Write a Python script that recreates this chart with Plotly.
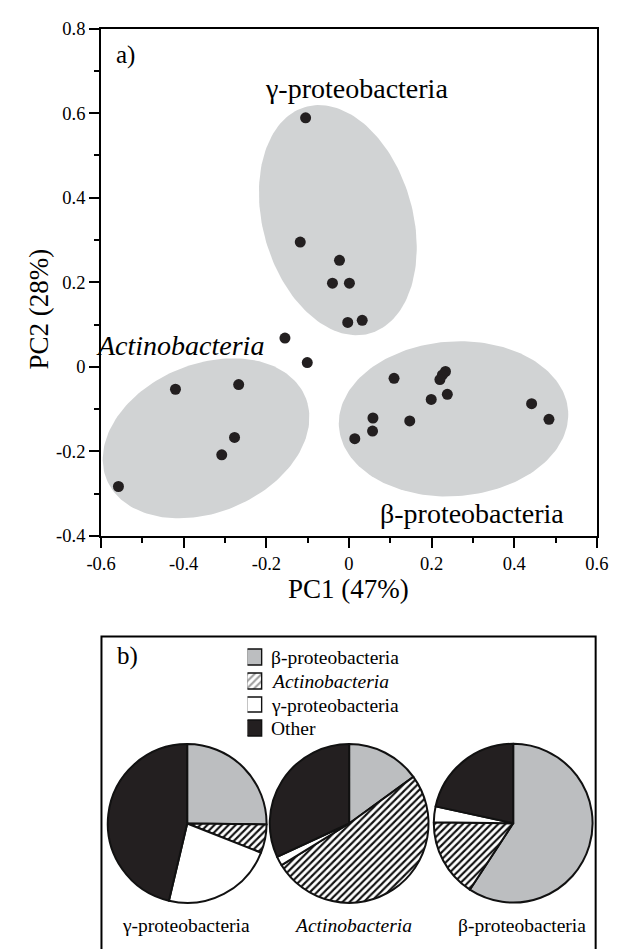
import numpy as np
import plotly.graph_objects as go

# ---------------- data ----------------
# PCA scores (PC1, PC2), one list per cluster
gamma_pc1 = [-0.105, -0.118, -0.023, -0.040, 0.001, -0.003, 0.032]
gamma_pc2 = [0.589, 0.295, 0.252, 0.198, 0.198, 0.105, 0.110]
other_pc1 = [-0.155, -0.101]
other_pc2 = [0.068, 0.010]
actino_pc1 = [-0.420, -0.267, -0.277, -0.308, -0.558]
actino_pc2 = [-0.053, -0.042, -0.167, -0.208, -0.283]
beta_pc1 = [0.109, 0.2335, 0.226, 0.220, 0.238, 0.199, 0.147, 0.058, 0.057, 0.014, 0.442, 0.484]
beta_pc2 = [-0.027, -0.011, -0.019, -0.030, -0.065, -0.077, -0.128, -0.121, -0.152, -0.170, -0.087, -0.124]

# cluster ellipses: centre x, centre y, semi-major, semi-minor, angle (deg)
ellipse_cx = [-0.027, -0.346, 0.253]
ellipse_cy = [0.347, -0.169, -0.123]
ellipse_a = [0.279, 0.2596, 0.278]
ellipse_b = [0.181, 0.176, 0.183]
ellipse_angle = [106.7, 21.4, 3.7]

cluster_labels = ["γ-proteobacteria", "<i>Actinobacteria</i>", "β-proteobacteria"]
cluster_label_x = [0.018, -0.4085, 0.297]
cluster_label_y = [0.659, 0.0505, -0.348]

x_tickvals = [-0.6, -0.4, -0.2, 0, 0.2, 0.4, 0.6]
x_ticktext = ["-0.6", "-0.4", "-0.2", "0", "0.2", "0.4", "0.6"]
y_tickvals = [-0.4, -0.2, 0, 0.2, 0.4, 0.6, 0.8]
y_ticktext = ["-0.4", "-0.2", "0", "0.2", "0.4", "0.6", "0.8"]

# composition pies (percent)
pie_categories = ["β-proteobacteria", "<i>Actinobacteria</i>", "γ-proteobacteria", "Other"]
pie_gamma = [25.2, 5.8, 22.7, 46.3]
pie_actino = [15.0, 51.2, 1.9, 31.9]
pie_beta = [59.2, 16.0, 3.2, 21.6]
pie_titles = ["γ-proteobacteria", "<i>Actinobacteria</i>", "β-proteobacteria"]

# ---------------- figure ----------------
W, H = 622, 949
FONT = "Liberation Serif"
ELL_COLOR = "#d1d3d4"
DOT_COLOR = "#231f20"
SLICE_COLORS = ["#bcbec0", "#ffffff", "#ffffff", "#231f20"]
SLICE_PATTERN = ["", "/", "", ""]


def px(x):
    return x / W


def py(y):
    return 1 - y / H


fig = go.Figure()

for cx, cy, a, b, ang in zip(ellipse_cx, ellipse_cy, ellipse_a, ellipse_b, ellipse_angle):
    t = np.linspace(0, 2 * np.pi, 181)
    th = np.radians(ang)
    ex = cx + a * np.cos(t) * np.cos(th) - b * np.sin(t) * np.sin(th)
    ey = cy + a * np.cos(t) * np.sin(th) + b * np.sin(t) * np.cos(th)
    fig.add_trace(go.Scatter(x=ex, y=ey, mode="lines", fill="toself",
                             fillcolor=ELL_COLOR, line=dict(width=0, color=ELL_COLOR),
                             hoverinfo="skip", showlegend=False))

all_x = gamma_pc1 + other_pc1 + actino_pc1 + beta_pc1
all_y = gamma_pc2 + other_pc2 + actino_pc2 + beta_pc2
fig.add_trace(go.Scatter(x=all_x, y=all_y, mode="markers",
                         marker=dict(size=11, color=DOT_COLOR),
                         showlegend=False))

# pies
pie_centers = [(180.0, 831.0), (349.3, 831.0), (520.8, 830.7)]
R = 83.0
pie_vals = [pie_gamma, pie_actino, pie_beta]
for vals, (cx, cy) in zip(pie_vals, pie_centers):
    fig.add_trace(go.Pie(
        labels=pie_categories, values=vals, sort=False, direction="clockwise",
        rotation=0, textinfo="none", hoverinfo="label+percent",
        marker=dict(colors=SLICE_COLORS,
                    line=dict(color="#111111", width=2),
                    pattern=dict(shape=SLICE_PATTERN, fgcolor="#111111",
                                 size=5, solidity=0.42)),
        domain=dict(x=[px(cx - R), px(cx + R)], y=[py(cy + R), py(cy - R)]),
        showlegend=False,
    ))

# legend keys for panel b (bar swatches on hidden axes)
rows = list(range(len(pie_categories)))
fig.add_trace(go.Bar(
    x=[1] * len(rows), y=rows, orientation="h", base=0, width=16 / 24.3,
    xaxis="x2", yaxis="y2", showlegend=False, hoverinfo="skip",
    marker=dict(color=SLICE_COLORS, line=dict(color="#111111", width=1.5),
                pattern=dict(shape=SLICE_PATTERN, fgcolor="#111111", size=5, solidity=0.42)),
))

axis_common = dict(showline=True, linewidth=2, linecolor="black", mirror=True,
                   ticks="outside", ticklen=10, tickwidth=2, tickcolor="black",
                   showgrid=False, zeroline=False,
                   tickfont=dict(family=FONT, size=18.5, color="black"))
minor_common = dict(ticks="outside", ticklen=5, tickwidth=2, tickcolor="black",
                    tickmode="linear", tick0=0, dtick=0.1)

fig.update_layout(
    width=W, height=H, margin=dict(l=0, r=0, t=0, b=0),
    paper_bgcolor="white", plot_bgcolor="white",
    font=dict(family=FONT, color="black"),
    showlegend=False,
    xaxis=dict(domain=[px(90), px(608.3)], range=[-0.6, 0.6],
               tickmode="array", tickvals=x_tickvals, ticktext=x_ticktext,
               minor=minor_common, **axis_common),
    yaxis=dict(domain=[py(537.3), py(19)], range=[-0.4, 0.8],
               tickmode="array", tickvals=y_tickvals, ticktext=y_ticktext,
               minor=minor_common, **axis_common),
    xaxis2=dict(domain=[px(243), px(259)], range=[0, 1], visible=False, fixedrange=True),
    yaxis2=dict(domain=[py(746.6), py(649.4)], range=[3.5, -0.5], visible=False,
                fixedrange=True),
    bargap=0,
)

annotations = []
for txt, x, y in zip(cluster_labels, cluster_label_x, cluster_label_y):
    annotations.append(dict(text=txt, x=x, y=y, xref="x", yref="y", showarrow=False,
                            xanchor="center", yanchor="middle",
                            font=dict(family=FONT, size=28, color="black")))
for txt, r in zip(pie_categories, rows):
    annotations.append(dict(text=txt, x=px(265.5), y=r, xref="paper", yref="y2",
                            showarrow=False, xanchor="left", yanchor="middle",
                            font=dict(family=FONT, size=19.5, color="black")))
annotations.append(dict(text="a)", x=px(104), y=py(46), xref="paper", yref="paper",
                        showarrow=False, xanchor="left", yanchor="middle",
                        font=dict(family=FONT, size=25, color="black")))
annotations.append(dict(text="b)", x=px(105), y=py(659.5), xref="paper", yref="paper",
                        showarrow=False, xanchor="left", yanchor="middle",
                        font=dict(family=FONT, size=25, color="black")))
annotations.append(dict(text="PC1 (47%)", x=px(349), y=py(591), xref="paper", yref="paper",
                        showarrow=False, xanchor="center", yanchor="middle",
                        font=dict(family=FONT, size=27, color="black")))
annotations.append(dict(text="PC2 (28%)", x=px(25), y=py(305), xref="paper", yref="paper",
                        showarrow=False, xanchor="center", yanchor="middle", textangle=-90,
                        font=dict(family=FONT, size=27, color="black")))
pie_label_x = [179, 353, 530]
for txt, x in zip(pie_titles, pie_label_x):
    annotations.append(dict(text=txt, x=px(x), y=py(935), xref="paper", yref="paper",
                            showarrow=False, xanchor="center", yanchor="middle",
                            font=dict(family=FONT, size=19.5, color="black")))
fig.update_layout(annotations=annotations)

# frame of panel b (bottom edge runs off the page)
fig.add_shape(type="rect", xref="paper", yref="paper",
              x0=px(90.4), x1=px(607), y0=py(1000), y1=py(640),
              line=dict(color="black", width=2), fillcolor="rgba(0,0,0,0)", layer="above")

fig.write_html(
    "out.html",
    config={"displayModeBar": False},
    post_script=("document.body.style.margin='0';document.body.style.padding='0';"
                 "document.documentElement.style.overflow='hidden';"),
)
